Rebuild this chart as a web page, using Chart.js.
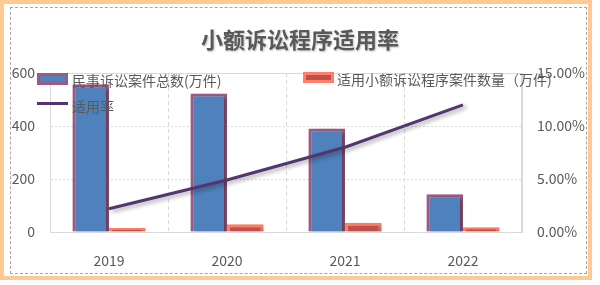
<!DOCTYPE html>
<html>
<head>
<meta charset="utf-8">
<script src="https://cdn.jsdelivr.net/npm/chart.js@4"></script>
<style>
  body { margin: 0; background: #fff; font-family: "Noto Sans CJK SC", sans-serif; }
  #wrap { position: relative; width: 600px; height: 285px; overflow: hidden; }
  #frame { position: absolute; left: 0; top: 0; width: 584px; height: 272px; border: 4px solid #FFC993; }
  #inner { position: absolute; left: 10px; top: 7px; width: 575px; height: 265px; border: 1px dashed #A6A6A6; }
  canvas { position: absolute; left: 0; top: 0; }
  #title { position: absolute; left: 0; width: 600px; top: 22px; text-align: center; font-size: 22px; font-weight: bold; color: #595959; text-shadow: 1px 1px 2px rgba(0,0,0,0.25); }
  .leg { position: absolute; font-size: 14px; color: #595959; line-height: 16px; white-space: nowrap; }
  .sw { position: absolute; box-sizing: border-box; }
</style>
</head>
<body>
<div id="wrap">
  <div id="frame"></div>
  <div id="inner"></div>
  <canvas id="grafico" width="600" height="285"></canvas>
  <div id="title">小额诉讼程序适用率</div>
  <div class="sw" style="left:37px;top:73px;width:31px;height:12px;background:#4F81BD;border:3px solid #9E5A84;"></div>
  <div class="leg" style="left:72px;top:72px;">民事诉讼案件总数(万件)</div>
  <div class="sw" style="left:303px;top:72px;width:31px;height:11px;background:#C0504D;border:3px solid #FF8066;"></div>
  <div class="leg" style="left:337px;top:71px;">适用小额诉讼程序案件数量（万件)</div>
  <div class="sw" style="left:37px;top:102px;width:31px;height:3px;background:#55356F;"></div>
  <div class="leg" style="left:72px;top:98px;">适用率</div>
</div>
<script>
const anios = ['2019', '2020', '2021', '2022'];
const casosCiviles = [558, 523, 391, 142];
const casosPequenos = [15, 29, 35, 18];
const tasaUso = [2.2, 4.9, 8.0, 12.0];
const ticksIzq = [0, 200, 400, 600];
const ticksDer = [0, 5, 10, 15];

// sombra para barras y linea
const sombra = {
    id: 'sombra',
    beforeDatasetDraw(chart) {
        const ctx = chart.ctx;
        ctx.save();
        ctx.shadowColor = 'rgba(0,0,0,0.35)';
        ctx.shadowBlur = 4;
        ctx.shadowOffsetX = 3;
        ctx.shadowOffsetY = 2;
    },
    afterDatasetDraw(chart) {
        chart.ctx.restore();
    }
};

// borde del area de trazado
const bordeArea = {
    id: 'bordeArea',
    beforeDatasetsDraw(chart) {
        const a = chart.chartArea;
        const ctx = chart.ctx;
        ctx.save();
        ctx.strokeStyle = '#D9D9D9';
        ctx.lineWidth = 1;
        ctx.strokeRect(a.left + 0.5, a.top + 0.5, a.right - a.left - 1, a.bottom - a.top);
        ctx.restore();
    }
};

const ctx = document.getElementById('grafico').getContext('2d');
const grafico = new Chart(ctx, {
    type: 'bar',
    data: {
        labels: anios,
        datasets: [{
            type: 'line',
            label: '适用率',
            data: tasaUso,
            yAxisID: 'y1',
            borderColor: '#55356F',
            borderWidth: 3,
            pointRadius: 0,
            tension: 0,
            order: 0
        }, {
            label: '民事诉讼案件总数(万件)',
            data: casosCiviles,
            backgroundColor: '#4F81BD',
            borderColor: '#9E5A84',
            borderWidth: 3,
            order: 1
        }, {
            label: '适用小额诉讼程序案件数量（万件)',
            data: casosPequenos,
            backgroundColor: '#C0504D',
            borderColor: '#FF8066',
            borderWidth: 3,
            order: 2
        }]
    },
    options: {
        responsive: false,
        animation: false,
        layout: { padding: { top: 73, left: 0, right: 0, bottom: 0 } },
        datasets: { bar: { categoryPercentage: 0.62, barPercentage: 1.0 } },
        plugins: { legend: { display: false }, title: { display: false }, tooltip: { enabled: false } },
        scales: {
            x: {
                grid: { color: '#D9D9D9', drawTicks: false },
                border: { display: true, color: '#D9D9D9', dash: [4, 3] },
                ticks: { color: '#595959', font: { family: 'Noto Sans CJK SC', size: 14 }, padding: 20 },
                afterFit(scale) { scale.height = 53; }
            },
            y: {
                position: 'left',
                min: 0,
                max: 600,
                afterBuildTicks(scale) { scale.ticks = ticksIzq.map(v => ({ value: v })); },
                grid: { color: '#D9D9D9', drawTicks: false },
                border: { display: true, color: '#D9D9D9', dash: [2, 2] },
                ticks: { color: '#595959', font: { family: 'Noto Sans CJK SC', size: 14 }, padding: 15 },
                afterFit(scale) { scale.width = 50; }
            },
            y1: {
                position: 'right',
                min: 0,
                max: 15,
                afterBuildTicks(scale) { scale.ticks = ticksDer.map(v => ({ value: v })); },
                grid: { display: false, drawTicks: false },
                border: { display: true, color: '#D9D9D9' },
                ticks: {
                    color: '#595959',
                    font: { family: 'Noto Sans CJK SC', size: 14 },
                    padding: 15,
                    callback: v => v.toFixed(2) + '%'
                },
                afterFit(scale) { scale.width = 78; }
            }
        }
    },
    plugins: [sombra, bordeArea]
});
</script>
</body>
</html>
